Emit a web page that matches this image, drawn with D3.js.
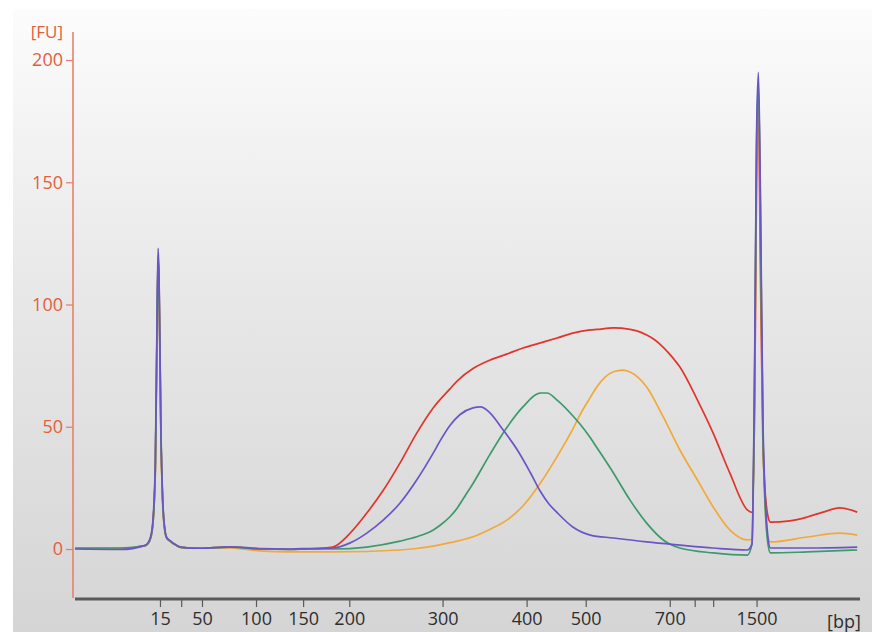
<!DOCTYPE html>
<html>
<head>
<meta charset="utf-8">
<script src="https://cdn.jsdelivr.net/npm/d3@7"></script>
<style>
  html, body { margin: 0; padding: 0; background: #ffffff; }
  svg { display: block; }
</style>
</head>
<body>
<svg id="chart" width="872" height="632"></svg>
<script>
// ---- Data (migration time in s, fluorescence in FU) ----
const ladderLabels = ["15", "", "50", "100", "150", "200", "300", "400", "500", "700", "", "", "1500"];
const ladderTimes  = [49.2, 51.5, 53.75, 59.6, 64.7, 69.7, 79.8, 88.9, 95.3, 104.4, 107.1, 109.1, 113.8];
const yTicks = [0, 50, 100, 150, 200];

const redT = [40,44.9,47.6,48.1,48.4,48.7,48.9,49.0,49.1,49.3,49.5,49.7,49.9,50.3,51.0,51.4,53.5,56.8,60.0,63.3,65.4,67.9,69.8,71.6,73.4,75.2,77.0,78.8,80.6,81.4,83.1,84.9,86.8,88.5,90.4,92.2,93.9,95.8,96.5,98.3,100.1,101.0,101.9,102.8,103.7,104.6,105.5,107.4,109.1,110.9,112.8,113.3,113.6,113.8,114.0,114.2,114.5,115.0,115.3,117.4,119.3,121.0,122.8,124.7];
const redV = [0.3,0.2,1.4,3.5,9,33,95,118,110,48,19,8.5,4.8,3.2,1.4,0.8,0.3,0.8,0,-0.2,0,0.8,6.5,14.7,24.1,35.2,47.4,57.8,65.5,68.8,73.8,77.2,79.8,82.2,84.3,86.3,88.3,89.6,89.8,90.4,89.8,89.0,87.5,85.5,82.5,78.8,74.4,60.9,47.4,31.1,16.0,15,60,150,180,120,40,14,11.0,11.5,13.1,15.1,16.8,15.1];

const orangeT = [40,44.9,47.6,48.1,48.4,48.7,48.9,49.0,49.1,49.3,49.5,49.7,49.9,50.3,51.0,51.4,53.5,56.8,60.0,63.3,65.4,67.9,75.2,78.8,80.6,83.1,84.9,86.8,88.5,90.4,92.2,93.9,94.7,95.8,96.5,97.4,98.3,99.3,100.1,101.9,103.7,105.5,107.4,109.1,110.9,112.8,113.3,113.6,113.8,114.0,114.2,114.5,115.0,115.3,119.3,122.8,124.7];
const orangeV = [0.2,0.3,1.3,3.5,9,31,92,116,105,46,18,8,4.5,3,1.3,0.7,0.3,0.5,-0.8,-1.2,-1.2,-1.2,-0.4,1.2,2.6,5.0,8.0,11.9,17.6,27.0,37.8,49.0,55,62.0,66.3,70.3,72.5,73.2,72.4,66.3,54.0,40.5,28.2,17.2,7.8,3.7,4,70,160,188,140,45,5,2.9,4.9,6.5,5.7];

const greenT = [40,44.9,47.6,48.1,48.4,48.7,48.9,49.0,49.1,49.3,49.5,49.7,49.9,50.3,51.0,51.4,53.5,56.8,60.0,63.3,65.4,67.9,71.6,75.2,77.0,78.8,79.5,80.6,81.4,82.2,83.1,84.9,86.8,88.5,90.4,91.1,92.2,93.9,94.7,95.8,96.5,98.3,100.1,101.9,103.7,105.5,109.1,112.8,113.3,113.6,113.8,114.0,114.2,114.5,115.0,115.3,119.3,124.7];
const greenV = [0.3,0.4,1.4,3.5,9,33,96,120,108,48,19,8.5,4.8,3.2,1.4,0.7,0.3,0.8,0,-0.2,0,0,0.8,3.2,5.0,7.8,9.6,13.2,16.8,21.5,26.8,38.5,49.9,58.1,63.8,63.8,60.9,54.5,51,45.5,41.5,31.1,20.0,10.6,3.7,0.4,-1.6,-2.5,2,75,165,190,145,45,3,-1.6,-1.2,-0.4];

const purpleT = [40,44.9,47.6,48.1,48.4,48.7,48.9,49.0,49.1,49.3,49.5,49.7,49.9,50.3,51.0,51.4,53.5,56.8,60.0,63.3,65.4,67.9,69.8,71.6,73.4,75.2,77.0,78.8,79.5,80.6,81.7,83.1,83.9,84.9,86.3,87.9,89.3,90.4,91.3,92.2,93.9,95.8,98.3,101.9,105.5,109.1,112.8,113.3,113.6,113.8,114.0,114.2,114.5,115.0,115.3,119.3,124.7];
const purpleV = [0,-0.2,1.5,4,10,36,100,123,112,50,20,9,5,3.4,1.5,0.8,0.3,0.9,0.2,0,0.2,0.4,2.5,6.5,11.9,18.8,28.2,39.3,44,50.5,55.0,57.7,58.1,55.8,49.0,40.5,31.3,23.5,18.5,14.9,9.0,5.7,4.5,2.9,1.6,0.4,-0.4,2,80,170,195,150,50,6,0.4,0.4,0.8];

const seriesNames  = ["red", "orange", "green", "purple"];
const seriesColors = ["#e2342b", "#f1a93a", "#3c9a6c", "#6a55c6"];
const seriesT = [redT, orangeT, greenT, purpleT];
const seriesV = [redV, orangeV, greenV, purpleV];

// ---- Layout ----
const svg = d3.select("#chart");
const W = 872, H = 632;

const defs = svg.append("defs");
const grad = defs.append("linearGradient").attr("id", "bg").attr("x1", 0).attr("y1", 0).attr("x2", 0).attr("y2", 1);
grad.append("stop").attr("offset", "0%").attr("stop-color", "#fcfcfc");
grad.append("stop").attr("offset", "45%").attr("stop-color", "#e8e8e8");
grad.append("stop").attr("offset", "100%").attr("stop-color", "#d5d5d5");

svg.append("rect").attr("x", 13).attr("y", 9).attr("width", W - 13).attr("height", H - 9).attr("fill", "url(#bg)");

const x = d3.scaleLinear().domain([40, 125]).range([75, 860]);
const y = d3.scaleLinear().domain([0, 200]).range([549, 60]);

const font = "'Open Sans', sans-serif";

// y axis
const yAxisG = svg.append("g").attr("transform", "translate(73,0)");
yAxisG.append("line")
  .attr("x1", 0).attr("x2", 0)
  .attr("y1", y(211.5)).attr("y2", y(-20))
  .attr("stroke", "#e4836d").attr("stroke-width", 1.6);
const yAx = d3.axisLeft(y).tickValues(yTicks).tickSize(7).tickPadding(3).tickFormat(d3.format("d"));
const yg = yAxisG.append("g").call(yAx);
yg.select(".domain").remove();
yg.selectAll(".tick line").attr("stroke", "#e4836d").attr("stroke-width", 1.3);
yg.selectAll(".tick text").attr("fill", "#e25f3c").attr("font-family", font).attr("font-size", 18);

svg.append("text").attr("x", 63).attr("y", 38).attr("text-anchor", "end")
  .attr("fill", "#e25f3c").attr("font-family", font).attr("font-size", 17)
  .text("[FU]");

// x axis
const xAxisG = svg.append("g").attr("transform", "translate(0,599)");
xAxisG.append("line").attr("x1", x(40)).attr("x2", x(125)).attr("y1", 0).attr("y2", 0)
  .attr("stroke", "#5a5a5a").attr("stroke-width", 2.8);
const xAx = d3.axisBottom(x).tickValues(ladderTimes).tickSize(8).tickPadding(5)
  .tickFormat((d, i) => ladderLabels[i]);
const xg = xAxisG.append("g").call(xAx);
xg.select(".domain").remove();
xg.selectAll(".tick line").attr("stroke", "#5a5a5a").attr("stroke-width", 1.2);
xg.selectAll(".tick text").attr("fill", "#2e2e2e").attr("font-family", font).attr("font-size", 18);

svg.append("text").attr("x", 844).attr("y", 628).attr("text-anchor", "middle")
  .attr("fill", "#2e2e2e").attr("font-family", font).attr("font-size", 18)
  .text("[bp]");

// traces
const line = d3.line().x(d => x(d[0])).y(d => y(d[1])).curve(d3.curveMonotoneX);
seriesNames.forEach((name, i) => {
  const pts = seriesT[i].map((t, j) => [t, seriesV[i][j]]);
  svg.append("path")
    .datum(pts)
    .attr("class", "trace " + name)
    .attr("fill", "none")
    .attr("stroke", seriesColors[i])
    .attr("stroke-width", 1.7)
    .attr("stroke-linejoin", "round")
    .attr("d", line);
});
</script>
</body>
</html>
